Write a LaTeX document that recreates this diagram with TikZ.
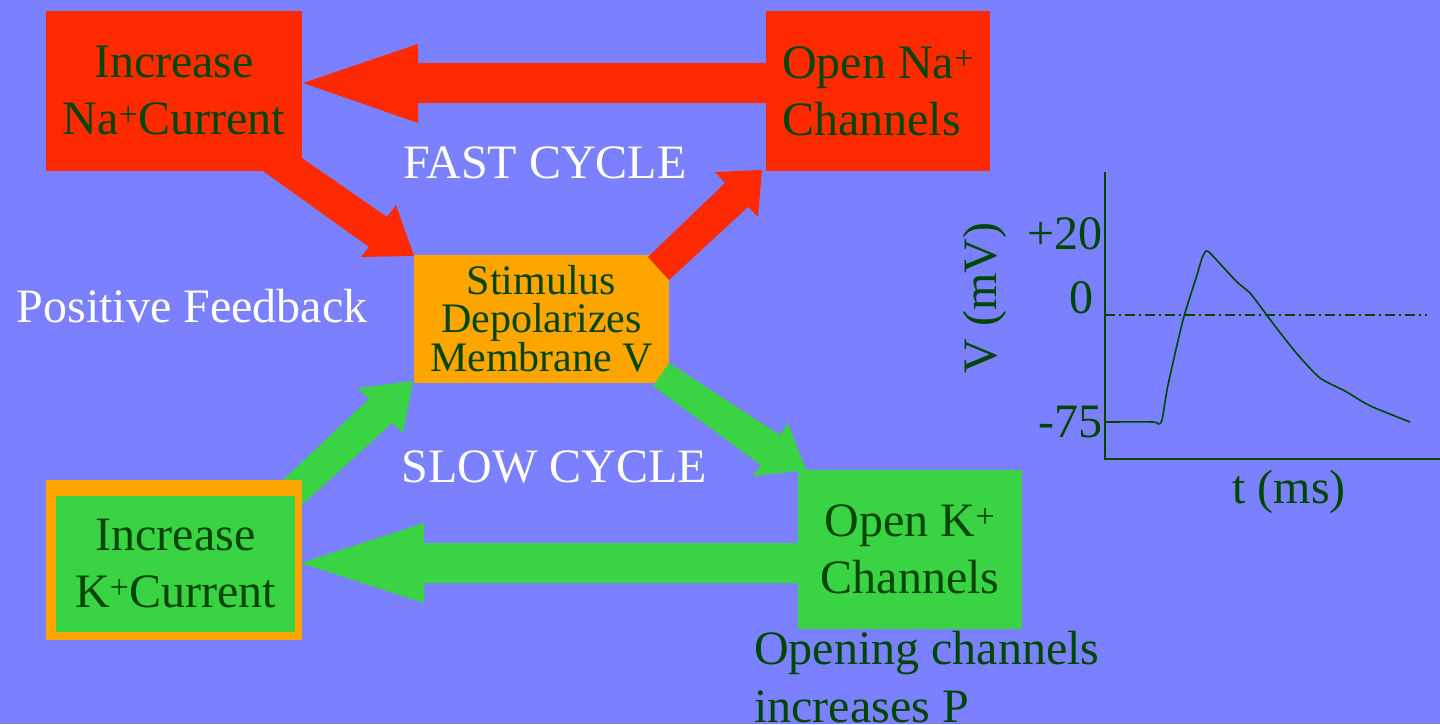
\documentclass[tikz,border=0pt]{standalone}
\usepackage{fontspec}
\setmainfont{Liberation Serif}
\definecolor{bg}{RGB}{123,128,255}
\definecolor{nared}{RGB}{255,42,0}
\definecolor{korange}{RGB}{255,165,0}
\definecolor{kgreen}{RGB}{58,211,68}
\definecolor{dgreen}{RGB}{0,70,0}
\begin{document}
\begin{tikzpicture}[x=1pt,y=-1pt,
  bigtext/.style={font=\fontsize{48}{57}\selectfont},
  box/.style={rectangle, inner sep=0pt, align=center, text=dgreen, bigtext},
  redbox/.style={box, fill=nared},
  greenbox/.style={box, fill=kgreen},
  whitelabel/.style={text=white, inner sep=0pt, bigtext, anchor=base},
  darklabel/.style={text=dgreen, inner sep=0pt, bigtext},
  redarrow/.style={fill=nared},
  greenarrow/.style={fill=kgreen},
  axis/.style={draw=dgreen, line width=2pt},
]
\useasboundingbox (0,0) rectangle (1440,724);
\fill[bg] (0,0) rectangle (1440,724);

% boxes
\node[redbox, minimum width=256pt, minimum height=160pt] (incna) at (174,91)
  {Increase\\Na\textsuperscript{+}Current};
\node[redbox, align=left, minimum width=224pt, minimum height=160pt] (openna) at (878,91)
  {Open Na\textsuperscript{+}\\Channels};
\node[box, fill=korange, minimum width=255pt, minimum height=128pt,
  font=\fontsize{42}{38}\selectfont] (stim) at (541.5,319)
  {Stimulus\\Depolarizes\\Membrane V};
\node[greenbox, minimum width=224pt, minimum height=159pt] (openk) at (910,549.5)
  {Open K\textsuperscript{+}\\Channels};
\node[rectangle, fill=korange, minimum width=256pt, minimum height=160pt] (kframe) at (174,560) {};
\node[greenbox, minimum width=239pt, minimum height=136pt] (inck) at (175.5,564)
  {Increase\\K\textsuperscript{+}Current};

% block arrows
\fill[redarrow] (766,63) -- (418,63) -- (418,44) -- (303,83) -- (418,123) -- (418,103) -- (766,103) -- cycle;
\fill[redarrow] (263,171) -- (369,247) -- (361,257) -- (414,256) -- (396,205) -- (387,217) -- (302,158) -- (290,150) -- (263,150) -- cycle;
\fill[redarrow] (648,257) -- (725,183) -- (715,172) -- (762,170) -- (758,217) -- (748,207) -- (669,280) -- cycle;
\fill[greenarrow] (283,480) -- (369,399) -- (358,388) -- (413,381) -- (403,433) -- (392,423) -- (302,505) -- (302,480) -- cycle;
\fill[greenarrow] (669,363) -- (780,435) -- (788,423) -- (806,470) -- (753,476) -- (761,465) -- (653,386) -- cycle;
\fill[greenarrow] (798,543) -- (424,543) -- (424,523) -- (301,563) -- (424,603) -- (424,583) -- (798,583) -- cycle;

% free labels
\node[whitelabel] (fast) at (545,178) {FAST CYCLE};
\node[whitelabel] (slow) at (554,482) {SLOW CYCLE};
\node[whitelabel] (posfb) at (192,322) {Positive Feedback};
\node[darklabel, anchor=base west] (open1) at (754,664) {Opening channels};
\node[darklabel, anchor=base west] (open2) at (754,722) {increases P};

% graph
\coordinate (yaxtop) at (1105,172);
\coordinate (origin) at (1105,459);
\coordinate (xaxend) at (1440,459);
\draw[axis] (yaxtop) -- (origin) -- (xaxend);
\coordinate (zl) at (1105,315);
\coordinate (zr) at (1427,315);
\draw[dgreen, line width=1.5pt, dash pattern=on 10pt off 4pt on 2pt off 4pt] (zl) -- (zr);
\draw[dgreen, line width=1.6pt, line join=round] plot[smooth, tension=0.4] coordinates {
 (1105,422) (1153,422) (1158,424) (1162,420) (1168,385) (1183,320) (1197,275) (1202,258)
 (1206,251) (1210,253) (1223,267) (1237,282) (1250,293) (1263,310) (1278,330) (1298,355)
 (1320,378) (1345,391) (1363,402) (1375,408) (1410,422)};
\node[darklabel, anchor=base east] (p20) at (1103,249) {+20};
\node[darklabel, anchor=base] (p0) at (1081,313) {0};
\node[darklabel, anchor=base east] (m75) at (1103,437) {-75};
\node[darklabel, rotate=90] (vlab) at (985,298) {V (mV)};
\node[darklabel, anchor=base] (tlab) at (1289,503) {t (ms)};
\end{tikzpicture}
\end{document}
